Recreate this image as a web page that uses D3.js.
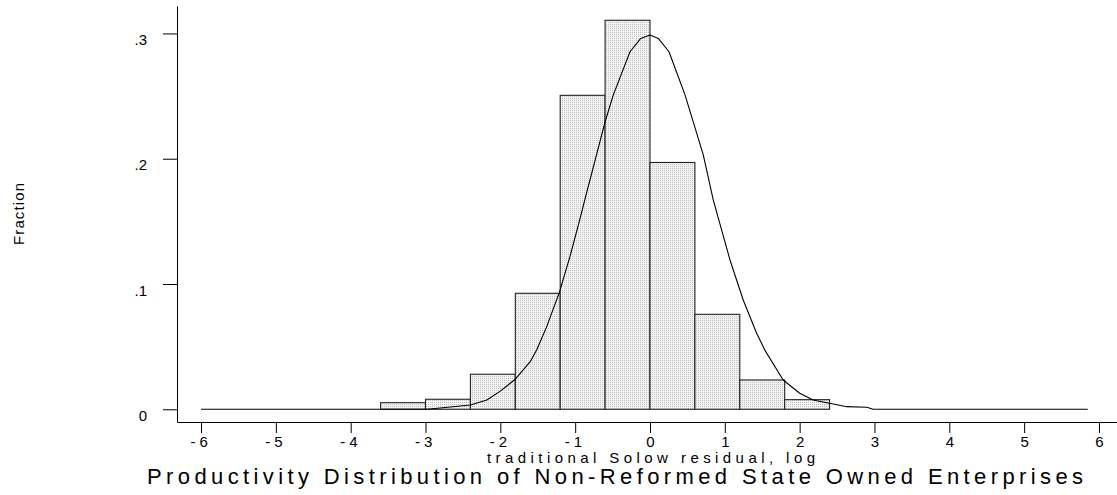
<!DOCTYPE html>
<html>
<head>
<meta charset="utf-8">
<script src="https://cdn.jsdelivr.net/npm/d3@7"></script>
<style>
  html, body { margin: 0; padding: 0; background: #fff; }
  svg { display: block; font-family: "Liberation Sans", Arial, sans-serif; }
</style>
</head>
<body>
<svg id="chart" width="1117" height="495"></svg>
<script>
// ---- data ----
const binLo = [-3.6, -3.0, -2.4, -1.8, -1.2, -0.6, 0.0, 0.6, 1.2, 1.8];
const binHi = [-3.0, -2.4, -1.8, -1.2, -0.6, 0.0, 0.6, 1.2, 1.8, 2.4];
const fractions = [0.0053, 0.008, 0.028, 0.0926, 0.2506, 0.3105, 0.197, 0.0758, 0.0234, 0.0077];

const curveX = [-6, -2.98, -2.7, -2.4, -2.18, -2.0, -1.8, -1.6, -1.51, -1.38, -1.21, -1.07, -0.94, -0.855,
                -0.6, -0.49, -0.267, -0.124, 0, 0.111, 0.254, 0.468, 0.712, 0.846, 1.07, 1.247, 1.425,
                1.537, 1.78, 2.0, 2.18, 2.4, 2.63, 2.9, 2.98, 5.85];
const curveY = [0, 0, 0.0016, 0.0034, 0.0074, 0.0145, 0.024, 0.038, 0.048, 0.066, 0.0935, 0.1218, 0.151, 0.171,
                0.2295, 0.251, 0.2854, 0.296, 0.2987, 0.296, 0.2854, 0.251, 0.203, 0.167, 0.119, 0.087, 0.0607,
                0.047, 0.0234, 0.0128, 0.0074, 0.0048, 0.0021, 0.0016, 0, 0];

const xTicks = [-6, -5, -4, -3, -2, -1, 0, 1, 2, 3, 4, 5, 6];
const yTicks = [0, 0.1, 0.2, 0.3];
const yTickLabels = ["0", ".1", ".2", ".3"];

const yTitle = "Fraction";
const xTitle = "traditional Solow residual, log";
const chartTitle = "Productivity Distribution of Non-Reformed State Owned Enterprises";

// ---- layout ----
const svg = d3.select("#chart");
const x = d3.scaleLinear().domain([-6.321, 6.241]).range([177, 1117]);
const y = d3.scaleLinear().domain([-0.01014, 0.3219]).range([422, 6]);

const defs = svg.append("defs");
const pat = defs.append("pattern")
  .attr("id", "dots").attr("width", 2).attr("height", 2)
  .attr("patternUnits", "userSpaceOnUse");
pat.append("rect").attr("width", 2).attr("height", 2).attr("fill", "#f2f2f2").attr("shape-rendering", "crispEdges");
pat.append("rect").attr("x", 0).attr("y", 0).attr("width", 1).attr("height", 1).attr("fill", "#c4c4c4").attr("shape-rendering", "crispEdges");

// bars
const bins = fractions.map((v, i) => ({ lo: binLo[i], hi: binHi[i], v }));
svg.append("g").selectAll("rect").data(bins).join("rect")
  .attr("x", d => x(d.lo))
  .attr("y", d => y(d.v))
  .attr("width", d => x(d.hi) - x(d.lo))
  .attr("height", d => y(0) - y(d.v))
  .attr("fill", "url(#dots)")
  .attr("stroke", "#222")
  .attr("stroke-width", 1.1);

// curve
const line = d3.line().x((d, i) => x(curveX[i])).y((d, i) => y(curveY[i]));
svg.append("path")
  .attr("d", line(curveX))
  .attr("fill", "none")
  .attr("stroke", "#000")
  .attr("stroke-width", 1.1)
  .attr("stroke-linejoin", "round");

// y axis
const yAxis = d3.axisLeft(y).tickValues(yTicks).tickSize(14).tickSizeOuter(0)
  .tickFormat((d, i) => yTickLabels[i]).tickPadding(16);
const gy = svg.append("g").attr("transform", "translate(177,0)").call(yAxis);
gy.selectAll("text").attr("font-size", 15).attr("dy", "0.75em").attr("fill", "#000")
  .attr("font-family", "Liberation Sans, Arial, sans-serif");
gy.selectAll("line,path").attr("stroke", "#000");

// x axis
const xAxis = d3.axisBottom(x).tickValues(xTicks).tickSize(11).tickSizeOuter(0)
  .tickFormat(d => d3.format("d")(d)).tickPadding(3);
const gx = svg.append("g").attr("transform", "translate(0,422)").call(xAxis);
gx.selectAll("line,path").attr("stroke", "#000");
gx.selectAll("text").each(function(d) {
  const t = d3.select(this);
  t.text(null).attr("font-size", 15).attr("fill", "#000")
   .attr("font-family", "Liberation Sans, Arial, sans-serif");
  if (d < 0) {
    t.attr("text-anchor", "start").attr("x", -11);
    t.append("tspan").text("-");
    t.append("tspan").attr("dx", 4).text(String(Math.abs(d)));
  } else {
    t.text(String(d));
  }
});

// titles
svg.append("text")
  .attr("transform", "translate(24,245) rotate(-90)")
  .attr("font-size", 15)
  .attr("textLength", 62).attr("lengthAdjust", "spacing")
  .text(yTitle);

svg.append("text")
  .attr("x", 487).attr("y", 462.5)
  .attr("font-size", 15)
  .attr("textLength", 328).attr("lengthAdjust", "spacing")
  .text(xTitle);

svg.append("text")
  .attr("x", 147).attr("y", 484)
  .attr("font-size", 22)
  .attr("textLength", 936).attr("lengthAdjust", "spacing")
  .text(chartTitle);
</script>
</body>
</html>
